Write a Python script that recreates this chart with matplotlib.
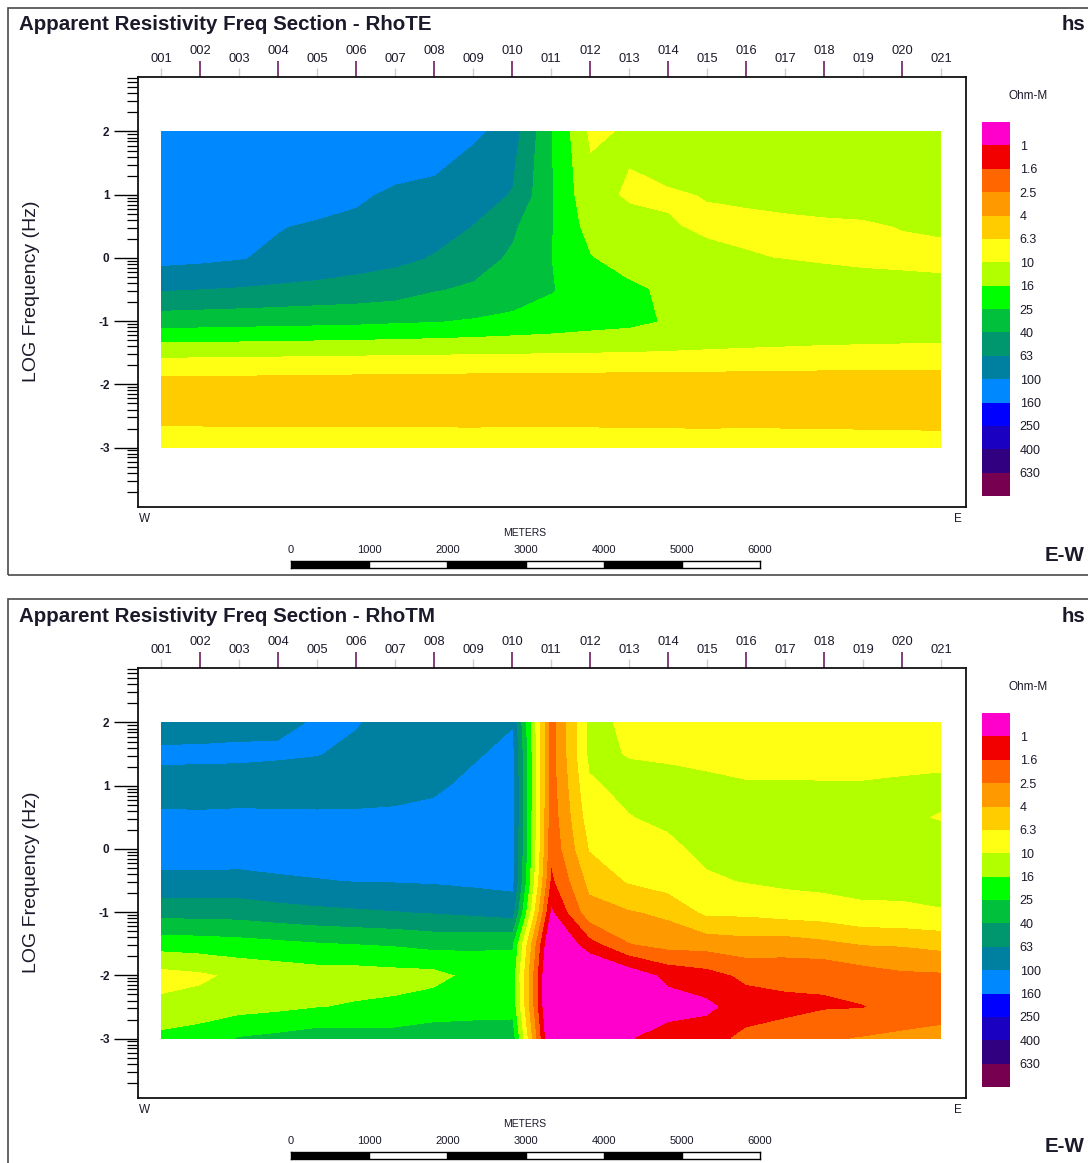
import numpy as np
import matplotlib
matplotlib.use('Agg')
import matplotlib.pyplot as plt
import matplotlib.cm as cm
from matplotlib.colors import ListedColormap, BoundaryNorm
from matplotlib.patches import Rectangle

plt.rcParams['font.family'] = ['Liberation Sans', 'DejaVu Sans']

# --- Data -----------------------------------------------------------------
stations = ['001', '002', '003', '004', '005', '006', '007', '008', '009', '010', '011',
            '012', '013', '014', '015', '016', '017', '018', '019', '020', '021']
station_spacing = 500  # metres between stations
log_freq = [2.0, 1.5, 1.0, 0.5, 0.0, -0.5, -1.0, -1.5, -2.0, -2.5, -3.0]

# legend classes (Ohm-m) and their colours, low -> high
res_labels = ['1', '1.6', '2.5', '4', '6.3', '10', '16', '25', '40', '63',
              '100', '160', '250', '400', '630']
res_colors = ['#FF00CC', '#F20000', '#FF6600', '#FF9900', '#FFCC00', '#FFFF14',
              '#B2FF00', '#00FF00', '#00C03C', '#00966E', '#0080A0', '#0088FF',
              '#0000FF', '#1A00C0', '#300080', '#780050']

scale_ticks = [0, 1000, 2000, 3000, 4000, 5000, 6000]

# log10 apparent resistivity, one row per log_freq, one column per station
rho_te = [
    [2.1, 2.1, 2.1, 2.1, 2.1, 2.1, 2.1, 2.1, 2.05, 1.89, 1.41, 0.96, 1.02, 1.08, 1.1, 1.1, 1.11, 1.11, 1.12, 1.12, 1.12],
    [2.1, 2.1, 2.1, 2.1, 2.1, 2.1, 2.1, 2.05, 1.92, 1.83, 1.41, 1.015, 1.003, 1.04, 1.07, 1.09, 1.1, 1.1, 1.1, 1.1, 1.1],
    [2.1, 2.1, 2.1, 2.1, 2.1, 2.04, 1.95, 1.92, 1.86, 1.79, 1.41, 1.05, 0.98, 0.985, 1.005, 1.02, 1.04, 1.07, 1.07, 1.07, 1.07],
    [2.05, 2.05, 2.04, 2.01, 1.97, 1.94, 1.91, 1.87, 1.795, 1.63, 1.41, 1.12, 1.05, 1.01, 0.98, 0.97, 0.97, 0.97, 0.98, 1.005, 1.02],
    [2.06, 2.04, 2.01, 1.96, 1.93, 1.88, 1.845, 1.785, 1.68, 1.57, 1.4, 1.21, 1.1, 1.06, 1.03, 1.01, 0.995, 0.98, 0.97, 0.965, 0.96],
    [1.81, 1.795, 1.78, 1.76, 1.74, 1.72, 1.69, 1.61, 1.57, 1.5, 1.41, 1.3, 1.24, 1.16, 1.13, 1.11, 1.1, 1.08, 1.06, 1.05, 1.04],
    [1.49, 1.48, 1.47, 1.46, 1.45, 1.44, 1.42, 1.405, 1.38, 1.35, 1.32, 1.28, 1.25, 1.18, 1.14, 1.12, 1.11, 1.1, 1.1, 1.1, 1.1],
    [1.05, 1.045, 1.04, 1.035, 1.03, 1.025, 1.02, 1.015, 1.01, 1.005, 1.0, 0.995, 0.99, 0.985, 0.98, 0.975, 0.97, 0.965, 0.96, 0.955, 0.95],
    [0.7, 0.7, 0.7, 0.7, 0.69, 0.69, 0.69, 0.69, 0.68, 0.68, 0.68, 0.68, 0.67, 0.67, 0.67, 0.67, 0.67, 0.66, 0.66, 0.66, 0.66],
    [0.72, 0.72, 0.72, 0.72, 0.73, 0.73, 0.73, 0.73, 0.73, 0.74, 0.74, 0.74, 0.74, 0.74, 0.74, 0.75, 0.75, 0.75, 0.75, 0.75, 0.75],
    [0.95, 0.95, 0.94, 0.94, 0.93, 0.93, 0.92, 0.92, 0.91, 0.91, 0.9, 0.9, 0.89, 0.89, 0.88, 0.88, 0.87, 0.87, 0.86, 0.86, 0.85],
]

rho_tm = [
    [1.92, 1.93, 1.95, 1.97, 2.01, 2.01, 1.93, 1.95, 1.95, 1.98, 0.3, 1.04, 0.97, 0.96, 0.95, 0.94, 0.94, 0.93, 0.93, 0.94, 0.95],
    [2.03, 2.03, 2.03, 2.02, 2.005, 1.96, 1.92, 1.93, 1.97, 2.06, 0.3, 1.04, 0.99, 0.97, 0.96, 0.95, 0.95, 0.94, 0.94, 0.95, 0.97],
    [1.94, 1.93, 1.92, 1.91, 1.9, 1.91, 1.92, 1.96, 2.05, 2.08, 0.29, 0.97, 1.05, 1.06, 1.03, 1.01, 1.01, 1.01, 1.01, 1.02, 1.02],
    [2.02, 2.02, 2.03, 2.03, 2.03, 2.03, 2.04, 2.06, 2.08, 2.08, 0.27, 0.9, 0.99, 1.04, 1.06, 1.07, 1.07, 1.06, 1.05, 1.01, 0.995],
    [2.1, 2.1, 2.1, 2.1, 2.1, 2.1, 2.1, 2.1, 2.09, 2.08, 0.24, 0.81, 0.9, 0.95, 1.05, 1.07, 1.08, 1.08, 1.07, 1.03, 1.03],
    [1.95, 1.95, 1.94, 1.97, 1.99, 2.005, 2.01, 2.02, 2.04, 2.06, 0.15, 0.66, 0.82, 0.9, 0.97, 1.01, 1.04, 1.06, 1.06, 1.05, 1.05],
    [1.67, 1.67, 1.68, 1.72, 1.75, 1.77, 1.79, 1.81, 1.84, 1.88, -0.05, 0.52, 0.58, 0.64, 0.84, 0.84, 0.88, 0.9, 0.96, 0.97, 0.99],
    [1.28, 1.3, 1.32, 1.35, 1.38, 1.4, 1.42, 1.46, 1.44, 1.42, -0.3, 0.12, 0.39, 0.47, 0.48, 0.52, 0.5, 0.55, 0.61, 0.62, 0.66],
    [0.92, 0.96, 1.04, 1.07, 1.1, 1.1, 1.12, 1.13, 1.25, 1.3, -0.4, -0.3, -0.15, 0.05, 0.12, 0.24, 0.26, 0.23, 0.3, 0.36, 0.37],
    [1.05, 1.08, 1.12, 1.15, 1.19, 1.22, 1.24, 1.3, 1.32, 1.33, -0.4, -0.35, -0.12, -0.1, -0.05, 0.1, 0.14, 0.18, 0.19, 0.27, 0.3],
    [1.25, 1.3, 1.41, 1.45, 1.5, 1.48, 1.48, 1.5, 1.5, 1.5, -0.3, -0.2, -0.02, 0.1, 0.12, 0.25, 0.3, 0.38, 0.41, 0.44, 0.47],
]

# --- Colour classes ---------------------------------------------------------
log_levels = np.round(np.log10([float(v) for v in res_labels]), 1)
bounds = np.concatenate([[-1.0], log_levels, [4.0]])
cmap = ListedColormap(res_colors)

# --- Page layout (pixels) ---------------------------------------------------
W_PX, H_PX = 1088, 1163
PANEL_OFFSET = 591
TEXT = '#1a1a2a'

fig = plt.figure(figsize=(W_PX / 100, H_PX / 100), dpi=100)


def px_axes(x0, y0, x1, y1):
    return fig.add_axes([x0 / W_PX, 1 - y1 / H_PX, (x1 - x0) / W_PX, (y1 - y0) / H_PX])


def px_text(x, y, s, **kw):
    kw.setdefault('color', TEXT)
    fig.text(x / W_PX, 1 - y / H_PX, s, **kw)


station_x = np.arange(len(stations)) * station_spacing
# frame edges: first station sits at px 161, 39 px per station
x_lim = ((138 - 161) / 39 * station_spacing, (966 - 161) / 39 * station_spacing)
y_lim = (-3.94, 2.87)
decades = [-3, -2, -1, 0, 1, 2]
minor_pos = [np.log10(k) + n for n in range(-4, 3) for k in range(2, 10)]
minor_pos = [p for p in minor_pos if y_lim[0] < p < y_lim[1]]


def draw_panel(dy, title, grid):
    norm = BoundaryNorm(bounds, cmap.N)

    # outer page frame
    fig.add_artist(Rectangle((8 / W_PX, 1 - (575 + dy) / H_PX), 1.2, 567 / H_PX,
                             transform=fig.transFigure, fill=False, lw=1.2, ec='#4a4a4a'))

    ax = px_axes(138, 76.5 + dy, 966, 507 + dy)
    ax.contourf(station_x, log_freq, np.array(grid), levels=bounds, cmap=cmap, norm=norm)
    ax.set_xlim(*x_lim)
    ax.set_ylim(*y_lim)
    for sp in ax.spines.values():
        sp.set_linewidth(1.3)
        sp.set_color('#111111')

    # station ticks along the top
    ax.xaxis.set_ticks_position('top')
    ax.set_xticks(station_x[1::2], labels=stations[1::2])
    ax.set_xticks(station_x[0::2], labels=stations[0::2], minor=True)
    ax.tick_params(axis='x', which='major', length=11.5, width=1.3, color='#7b2d6e',
                   pad=2.5, labelsize=9.3, labelcolor=TEXT)
    ax.tick_params(axis='x', which='minor', length=6.5, width=1.0, color='#dcc6d6',
                   pad=2, labelsize=9.3, labelcolor=TEXT)

    # log-frequency ticks on the left
    ax.set_yticks(decades, labels=[str(d) for d in decades])
    ax.set_yticks(minor_pos, minor=True)
    ax.tick_params(axis='y', which='major', length=17, width=1.0, pad=3.5,
                   labelsize=8.5, labelcolor=TEXT)
    ax.tick_params(axis='y', which='minor', length=8, width=0.9)
    for lab in ax.get_yticklabels():
        lab.set_fontweight('bold')

    # legend bar
    cax = px_axes(982, 122 + dy, 1010, 496 + dy)
    cb = fig.colorbar(cm.ScalarMappable(norm=norm, cmap=cmap), cax=cax, spacing='uniform')
    cb.outline.set_visible(False)
    cax.invert_yaxis()
    cax.minorticks_off()
    cax.set_yticks(log_levels, labels=res_labels)
    cax.tick_params(which='both', length=0, pad=7, labelsize=9, labelcolor=TEXT)

    # scale bar
    sax = px_axes(291, 561 + dy, 760, 568 + dy)
    sax.set_xlim(scale_ticks[0], scale_ticks[-1])
    sax.set_ylim(0, 1)
    sax.broken_barh([(scale_ticks[i], scale_ticks[i + 1] - scale_ticks[i])
                     for i in range(0, len(scale_ticks) - 1, 2)], (0, 1), color='black')
    sax.xaxis.set_ticks_position('top')
    sax.set_xticks(scale_ticks, labels=[str(t) for t in scale_ticks])
    sax.set_yticks([])
    sax.tick_params(length=0, pad=4, labelsize=8, labelcolor=TEXT)
    for sp in sax.spines.values():
        sp.set_linewidth(1.0)

    # texts
    px_text(19, 25 + dy, title, fontsize=14.8, fontweight='bold', va='center', ha='left')
    px_text(1085, 25 + dy, 'hs', fontsize=14.8, fontweight='bold', va='center', ha='right')
    px_text(1085, 556 + dy, 'E-W', fontsize=14.8, fontweight='bold', va='center', ha='right')
    px_text(32, 291 + dy, 'LOG Frequency (Hz)', rotation=90, fontsize=14,
            va='center', ha='center')
    px_text(139, 519 + dy, 'W', fontsize=8.5, va='center', ha='left')
    px_text(958, 519 + dy, 'E', fontsize=8.5, va='center', ha='center')
    px_text(1028, 96 + dy, 'Ohm-M', fontsize=8.5, va='center', ha='center')
    px_text(525, 533 + dy, 'METERS', fontsize=7.5, va='center', ha='center')


draw_panel(0, 'Apparent Resistivity Freq Section - RhoTE', rho_te)
draw_panel(PANEL_OFFSET, 'Apparent Resistivity Freq Section - RhoTM', rho_tm)

fig.savefig('out.png', dpi=100)
